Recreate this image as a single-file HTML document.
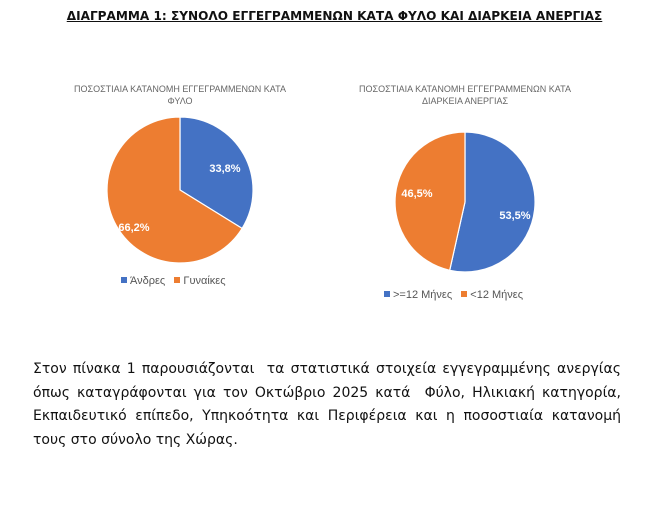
<!DOCTYPE html>
<html><head><meta charset="utf-8"><style>
body{margin:0;width:669px;height:509px;background:#fff;position:relative;overflow:hidden;font-family:"Liberation Sans","DejaVu Sans",sans-serif}
.t{position:absolute;left:0;width:669px;top:9px;text-align:center;font-weight:bold;font-size:12.1px;text-decoration:underline;color:#111;font-family:"DejaVu Sans",sans-serif}
.ct{position:absolute;font-size:9px;color:#666;text-align:center;line-height:12px}
.leg{position:absolute;font-size:11px;color:#555}
.sq{display:inline-block;width:6px;height:6px;margin-right:3px;vertical-align:1px}
.p{position:absolute;left:33px;width:588px;font-size:14px;color:#111;line-height:23.5px;top:358px;font-family:"DejaVu Sans",sans-serif}
.p div{text-align:justify;text-align-last:justify;white-space:nowrap}
</style></head><body>
<div class="t">ΔΙΑΓΡΑΜΜΑ 1: ΣΥΝΟΛΟ ΕΓΓΕΓΡΑΜΜΕΝΩΝ ΚΑΤΑ ΦΥΛΟ ΚΑΙ ΔΙΑΡΚΕΙΑ ΑΝΕΡΓΙΑΣ</div>
<div class="ct" style="left:50px;width:260px;top:83px">ΠΟΣΟΣΤΙΑΙΑ ΚΑΤΑΝΟΜΗ ΕΓΓΕΓΡΑΜΜΕΝΩΝ ΚΑΤΑ<br>ΦΥΛΟ</div>
<div class="ct" style="left:330px;width:270px;top:83px">ΠΟΣΟΣΤΙΑΙΑ ΚΑΤΑΝΟΜΗ ΕΓΓΕΓΡΑΜΜΕΝΩΝ ΚΑΤΑ<br>ΔΙΑΡΚΕΙΑ ΑΝΕΡΓΙΑΣ</div>
<svg width="669" height="509" style="position:absolute;left:0;top:0">
<g stroke="#fff" stroke-width="1.2">
<path d="M180,190 L180,117 A73,73 0 0 1 242.1,228.4 Z" fill="#4472C4"/>
<path d="M180,190 L242.1,228.4 A73,73 0 1 1 180,117 Z" fill="#ED7D31"/>
<path d="M465,202 L465,132 A70,70 0 1 1 449.7,270.3 Z" fill="#4472C4"/>
<path d="M465,202 L449.7,270.3 A70,70 0 0 1 465,132 Z" fill="#ED7D31"/>
</g>
<g fill="#fff" font-weight="bold" font-size="11" font-family="Liberation Sans, sans-serif" text-anchor="middle">
<text x="225" y="172">33,8%</text>
<text x="134" y="231">66,2%</text>
<text x="417" y="197">46,5%</text>
<text x="515" y="219">53,5%</text>
</g>
</svg>
<div class="leg" style="left:121px;top:275px"><span class="sq" style="background:#4472C4"></span>Άνδρες &nbsp;&nbsp;<span class="sq" style="background:#ED7D31"></span>Γυναίκες</div>
<div class="leg" style="left:384px;top:289px"><span class="sq" style="background:#4472C4"></span>&gt;=12 Μήνες &nbsp;&nbsp;<span class="sq" style="background:#ED7D31"></span>&lt;12 Μήνες</div>
<div class="p">
<div>Στον πίνακα 1 παρουσιάζονται &nbsp;τα στατιστικά στοιχεία εγγεγραμμένης ανεργίας</div>
<div>όπως καταγράφονται για τον Οκτώβριο 2025 κατά &nbsp;Φύλο, Ηλικιακή κατηγορία,</div>
<div>Εκπαιδευτικό επίπεδο, Υπηκοότητα και Περιφέρεια και η ποσοστιαία κατανομή</div>
<div style="text-align-last:left">τους στο σύνολο της Χώρας.</div>
</div>
</body></html>
